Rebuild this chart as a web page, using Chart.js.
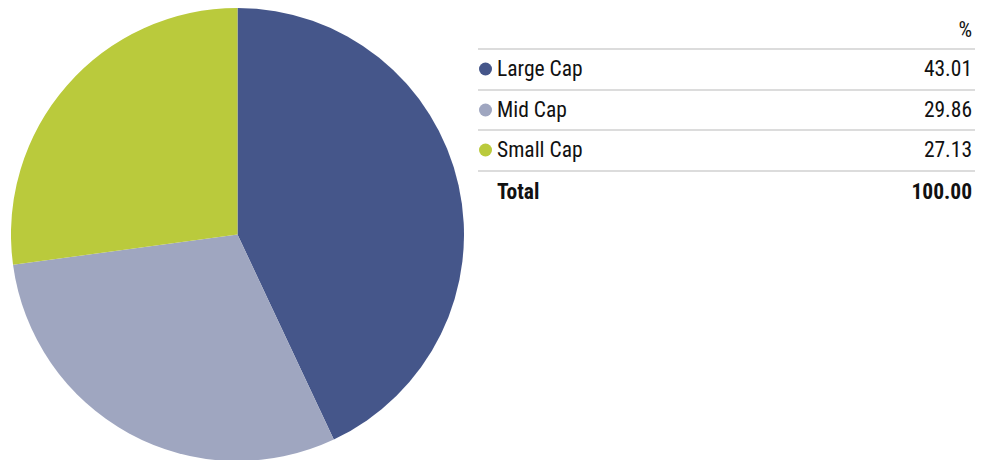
<!DOCTYPE html>
<html>
<head>
<meta charset="utf-8">
<script src="https://cdn.jsdelivr.net/npm/chart.js@4"></script>
<style>
  html, body { margin: 0; padding: 0; background: #fff; overflow: hidden; }
  body { width: 981px; height: 460px; position: relative; font-family: "Roboto Condensed", "Liberation Sans Narrow", Roboto, sans-serif; }
  #pieWrap { position: absolute; left: 10.5px; top: 8px; width: 453px; height: 453px; }
  #tbl { position: absolute; left: 478px; top: 11px; width: 497px; }
  .row { position: relative; height: 40.6px; border-bottom: 2px solid #dcdcdc; box-sizing: border-box; }
  .row.head { height: 39px; }
  .row.total { border-bottom: none; }
  .lbl, .val { position: absolute; top: 50%; font-size: 21.5px; color: #111; white-space: nowrap; line-height: 1; transform: translateY(-50%); }
  .lbl { left: 19px; }
  .val { right: 3px; }
  .dot { position: absolute; left: 1px; top: 50%; width: 13px; height: 13px; border-radius: 50%; transform: translateY(-50%); }
  .total .lbl, .total .val { font-weight: bold; }
</style>
</head>
<body>
<div id="pieWrap"><canvas id="c"></canvas></div>
<div id="tbl"></div>
<script>
const categories = ["Large Cap", "Mid Cap", "Small Cap"];
const values = [43.01, 29.86, 27.13];
const colors = ["#45568A", "#9FA6C0", "#BACA3C"];
const headerLabel = "%";
const totalLabel = "Total";
const totalValue = "100.00";

new Chart(document.getElementById("c"), {
  type: "pie",
  data: {
    labels: categories,
    datasets: [{ data: values, backgroundColor: colors, borderWidth: 0, hoverOffset: 0 }]
  },
  options: {
    responsive: true,
    maintainAspectRatio: false,
    animation: false,
    layout: { padding: 0 },
    plugins: { legend: { display: false }, tooltip: { enabled: false } }
  }
});

const tbl = document.getElementById("tbl");
function addRow(cls, label, val, color) {
  const r = document.createElement("div");
  r.className = "row " + cls;
  if (color) {
    const d = document.createElement("span");
    d.className = "dot";
    d.style.background = color;
    r.appendChild(d);
  }
  if (label) {
    const l = document.createElement("span");
    l.className = "lbl";
    l.textContent = label;
    r.appendChild(l);
  }
  const v = document.createElement("span");
  v.className = "val";
  v.textContent = val;
  r.appendChild(v);
  tbl.appendChild(r);
}
addRow("head", "", headerLabel, null);
categories.forEach((c, i) => addRow("", c, values[i].toFixed(2), colors[i]));
addRow("total", totalLabel, totalValue, null);
</script>
</body>
</html>
